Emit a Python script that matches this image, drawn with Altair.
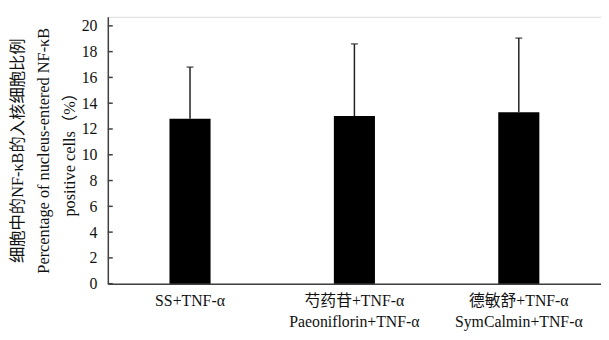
import altair as alt
import pandas as pd

categories = ["SS+TNF-α", "芍药苷+TNF-α|Paeoniflorin+TNF-α", "德敏舒+TNF-α|SymCalmin+TNF-α"]
means = [12.8, 13.0, 13.3]
uppers = [16.8, 18.6, 19.05]
tick_values = [0, 2, 4, 6, 8, 10, 12, 14, 16, 18, 20]

df = pd.DataFrame({"group": categories, "mean": means, "upper": uppers})
ticks_df = pd.DataFrame({"v": tick_values})

FONT = "Liberation Serif"
TFONT = "Liberation Serif, Noto Sans CJK SC"
W, H = 499, 270
ydom = [0, 20.7]

xaxis = alt.Axis(title=None, labelAngle=0, labelPadding=9, labelLineHeight=21,
                 labelExpr="split(datum.label, '|')", labelFont=TFONT, labelFontSize=16,
                 labelColor="#111", labelOverlap=False, labelBound=False, ticks=False,
                 domainColor="#404040", domainWidth=1.5, grid=False)
yaxis = alt.Axis(values=tick_values, labelPadding=11, labelFont=FONT, labelFontSize=16,
                 labelColor="#111", labelOverlap=False, labelFlush=False, labelBound=False,
                 ticks=False, grid=False, domainColor="#404040", domainWidth=1.5,
                 title=["细胞中的NF-κB的入核细胞比例",
                        "Percentage of nucleus-entered NF-κB",
                        "positive cells（%）"],
                 titleFont=TFONT, titleFontSize=16.5, titleFontWeight="normal",
                 titleColor="#111", titleLineHeight=26, titlePadding=4)
yscale = alt.Scale(domain=ydom, nice=False, zero=True)
xscale = alt.Scale(paddingInner=0.75, paddingOuter=0.375)

def X():
    return alt.X("group:N", sort=categories, scale=xscale, axis=xaxis)

bars = alt.Chart(df).mark_bar(color="black").encode(
    x=X(), y=alt.Y("mean:Q", scale=yscale, axis=yaxis))

err = alt.Chart(df).mark_rule(color="#222", strokeWidth=1.5).encode(
    x=X(), y=alt.Y("mean:Q", scale=yscale, axis=yaxis), y2="upper:Q")

caps = alt.Chart(df).mark_tick(color="#222", thickness=1.5, size=7, orient="horizontal").encode(
    x=X(), y=alt.Y("upper:Q", scale=yscale, axis=yaxis))

inticks = alt.Chart(ticks_df).mark_rule(color="#404040", strokeWidth=1.5).encode(
    y=alt.Y("v:Q", scale=yscale, axis=yaxis), x=alt.value(0), x2=alt.value(5))

chart = alt.layer(bars, err, caps, inticks).properties(
    width=W, height=H,
    padding={"left": 101, "top": 7, "right": 0, "bottom": 50},
    autosize=alt.AutoSizeParams(type="none"),
).configure_view(stroke=None).configure(background="white")

chart.save("out.html", embed_options={"renderer": "svg", "actions": False})
